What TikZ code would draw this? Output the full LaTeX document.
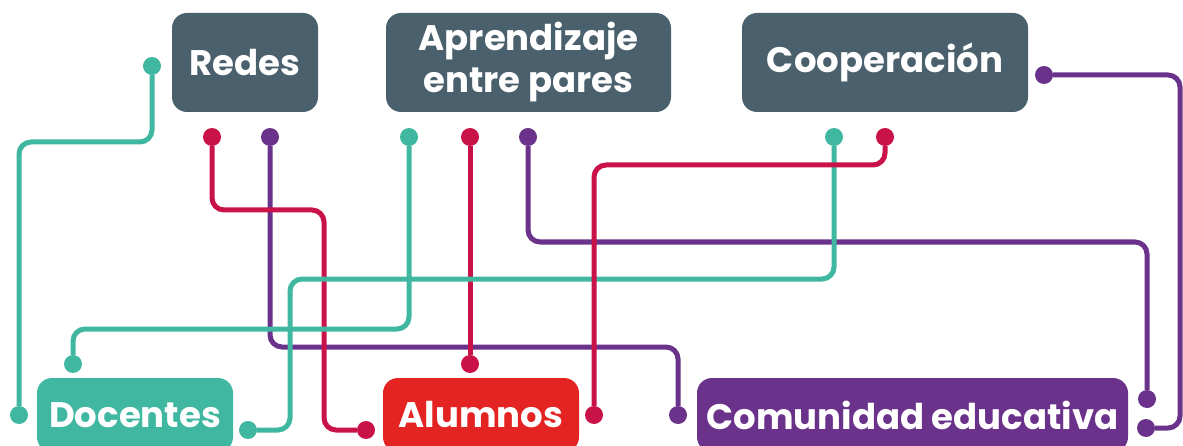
\documentclass[tikz,border=0pt]{standalone}
\usepackage{fontspec}
\setmainfont{Poppins}
\usepackage{tikz}
\usetikzlibrary{positioning}

\definecolor{slate}{HTML}{4A606C}
\definecolor{verde}{HTML}{40B7A0}
\definecolor{carmin}{HTML}{C81248}
\definecolor{rojo}{HTML}{E42422}
\definecolor{morado}{HTML}{6A328A}

\begin{document}
\begin{tikzpicture}
		[x=1pt, y=1pt,
		 box/.style={rectangle, rounded corners=15pt, fill=slate, text=white,
		   font=\fontsize{35.5}{42}\selectfont\bfseries, align=center, inner sep=0pt,
		   minimum height=99pt},
		 dot/.style={circle, inner sep=0pt, minimum size=18pt},
		 wire/.style={line width=5pt, rounded corners=12pt}]
		\useasboundingbox (0,0) rectangle (1183,445);
		\clip (0,0) rectangle (1183,445);

		\node[box, minimum width=146pt] (redes) at (245,382.5) {Redes};
		\node[box, minimum width=285pt] (pares) at (528.5,382.5) {Aprendizaje\\entre pares};
		\node[box, minimum width=286pt] (coop) at (885,382.5) {Cooperación};
		\node[box, fill=verde, minimum width=196pt, minimum height=74pt] (docentes) at (135,30) {Docentes};
		\node[box, fill=rojo, minimum width=196pt, minimum height=74pt] (alumnos) at (481,30) {Alumnos};
		\node[box, fill=morado, minimum width=431pt, minimum height=74pt] (comunidad) at (912.5,30) {Comunidad educativa};

		% puntos de arriba
		\node[dot, fill=verde] (r1) at (152,379) {};
		\node[dot, fill=carmin] (r2) at (212,308) {};
		\node[dot, fill=morado] (r3) at (270,308) {};
		\node[dot, fill=verde] (p1) at (409,308) {};
		\node[dot, fill=carmin] (p2) at (470,308) {};
		\node[dot, fill=morado] (p3) at (528,308) {};
		\node[dot, fill=verde] (q1) at (834,308) {};
		\node[dot, fill=carmin] (q2) at (885,308) {};
		\node[dot, fill=morado] (q3) at (1044,370) {};

		% puntos de abajo
		\node[dot, fill=verde] (d1) at (19,30) {};
		\node[dot, fill=verde] (d2) at (73,81) {};
		\node[dot, fill=verde] (d3) at (248,15) {};
		\node[dot, fill=carmin] (a1) at (366,15) {};
		\node[dot, fill=carmin] (a2) at (470,81) {};
		\node[dot, fill=carmin] (a3) at (594,30) {};
		\node[dot, fill=morado] (c1) at (678,30) {};
		\node[dot, fill=morado] (c2) at (1147,46) {};
		\node[dot, fill=morado] (c3) at (1146,17) {};

		\coordinate (k2) at (324,235);
		\coordinate (k7) at (290,166);
		\coordinate (k9) at (1180,17);

		\draw[wire, verde] (r1) |- (d1 |- 0,303) -- (d1);
		\draw[wire, morado] (r3) |- (c1 |- 0,98) -- (c1);
		\draw[wire, carmin] (r2) |- (k2) |- (a1);
		\draw[wire, verde] (p1) |- (d2 |- 0,116) -- (d2);
		\draw[wire, carmin] (p2) -- (a2);
		\draw[wire, morado] (p3) |- (c2 |- 0,203) -- (c2);
		\draw[wire, verde] (q1) |- (k7) |- (d3);
		\draw[wire, carmin] (q2) |- (a3 |- 0,280) -- (a3);
		\draw[wire, morado] (q3) -| (k9) -- (c3);
	\end{tikzpicture}
\end{document}
